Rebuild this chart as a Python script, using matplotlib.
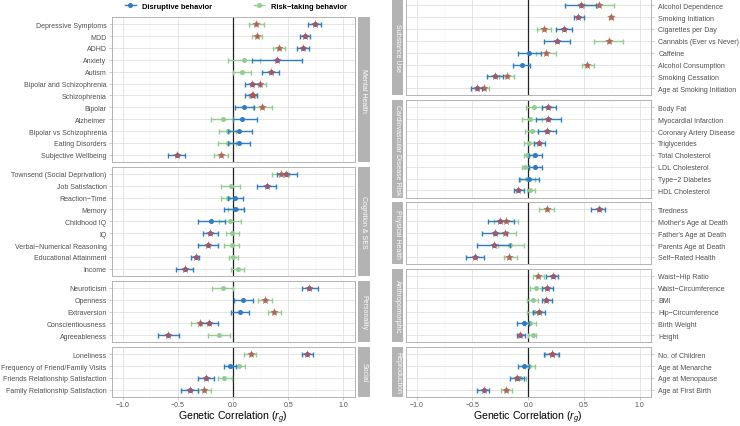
import numpy as np
import matplotlib.pyplot as plt
from matplotlib.lines import Line2D

plt.rcParams['font.family'] = ['Liberation Sans', 'DejaVu Sans']
plt.rcParams['mathtext.fontset'] = 'custom'
plt.rcParams['mathtext.rm'] = 'Liberation Sans'
plt.rcParams['mathtext.it'] = 'Liberation Sans:italic'

BLUE = '#2f7bc6'
GREEN = '#93cc93'
STAR = '#c0504d'
GRID = '#e0e0e0'
BORDER = '#b3b3b3'

# rows: estimate, lower CI, upper CI, significant (1) or not (0)
mental_labels = ['Depressive Symptoms', 'MDD', 'ADHD', 'Anxiety', 'Autism',
                 'Bipolar and Schizophrenia', 'Schizophrenia', 'Bipolar', 'Alzheimer',
                 'Bipolar vs Schizophrenia', 'Eating Disorders', 'Subjective Wellbeing']
mental_dis = [(0.74, 0.68, 0.80, 1), (0.65, 0.61, 0.70, 1), (0.63, 0.58, 0.69, 1),
              (0.40, 0.17, 0.62, 1), (0.34, 0.26, 0.42, 1), (0.17, 0.11, 0.24, 1),
              (0.17, 0.11, 0.22, 1), (0.10, 0.02, 0.19, 0), (0.08, 0.00, 0.22, 0),
              (0.05, -0.05, 0.17, 0), (0.05, -0.05, 0.15, 0), (-0.51, -0.59, -0.44, 1)]
mental_risk = [(0.21, 0.14, 0.28, 1), (0.22, 0.17, 0.26, 1), (0.42, 0.36, 0.47, 1),
               (0.10, -0.05, 0.24, 0), (0.08, 0.00, 0.16, 0), (0.24, 0.18, 0.30, 1),
               (0.18, 0.14, 0.22, 1), (0.26, 0.18, 0.35, 1), (-0.09, -0.20, 0.00, 0),
               (-0.05, -0.13, 0.03, 0), (-0.05, -0.14, 0.03, 0), (-0.11, -0.17, -0.05, 1)]

cog_labels = ['Townsend (Social Deprivation)', 'Job Satisfaction', 'Reaction\u2212Time',
              'Memory', 'Childhood IQ', 'IQ', 'Verbal\u2212Numerical Reasoning',
              'Educational Attainment', 'Income']
cog_dis = [(0.48, 0.40, 0.58, 1), (0.31, 0.22, 0.39, 1), (0.02, -0.05, 0.09, 0),
           (0.02, -0.08, 0.10, 0), (-0.20, -0.32, -0.07, 0), (-0.21, -0.27, -0.14, 1),
           (-0.23, -0.32, -0.14, 1), (-0.34, -0.38, -0.31, 1), (-0.44, -0.52, -0.36, 1)]
cog_risk = [(0.43, 0.35, 0.51, 1), (-0.02, -0.11, 0.06, 0), (-0.05, -0.11, 0.01, 0),
            (0.03, -0.05, 0.10, 0), (-0.03, -0.13, 0.07, 0), (-0.01, -0.06, 0.05, 0),
            (-0.01, -0.08, 0.05, 0), (0.00, -0.04, 0.04, 0), (0.04, -0.02, 0.10, 0)]

pers_labels = ['Neuroticism', 'Openness', 'Extraversion', 'Conscientiousness', 'Agreeableness']
pers_dis = [(0.69, 0.62, 0.77, 1), (0.09, 0.01, 0.18, 0), (0.06, -0.02, 0.14, 0),
            (-0.22, -0.30, -0.14, 1), (-0.59, -0.68, -0.49, 1)]
pers_risk = [(-0.09, -0.19, 0.00, 0), (0.29, 0.23, 0.35, 1), (0.37, 0.32, 0.43, 1),
             (-0.30, -0.38, -0.22, 1), (-0.13, -0.23, -0.03, 0)]

social_labels = ['Loneliness', 'Frequency of Friend/Family Visits',
                 'Friends Relationship Satisfaction', 'Family Relationship Satisfaction']
social_dis = [(0.67, 0.62, 0.72, 1), (-0.03, -0.08, 0.03, 0),
              (-0.25, -0.32, -0.17, 1), (-0.39, -0.47, -0.32, 1)]
social_risk = [(0.16, 0.10, 0.21, 1), (0.05, -0.01, 0.11, 0),
               (-0.08, -0.14, -0.01, 0), (-0.26, -0.32, -0.20, 1)]

subst_labels = ['Alcohol Dependence', 'Smoking Initiation', 'Cigarettes per Day',
                'Cannabis (Ever vs Never)', 'Caffeine', 'Alcohol Consumption',
                'Smoking Cessation', 'Age at Smoking Initiation']
subst_dis = [(0.47, 0.33, 0.61, 1), (0.45, 0.41, 0.50, 1), (0.32, 0.25, 0.39, 1),
             (0.26, 0.14, 0.37, 1), (0.01, -0.09, 0.11, 0), (-0.06, -0.14, 0.02, 0),
             (-0.30, -0.37, -0.23, 1), (-0.46, -0.51, -0.41, 1)]
subst_risk = [(0.63, 0.50, 0.77, 1), (0.74, 0.72, 0.76, 1), (0.14, 0.08, 0.20, 1),
              (0.72, 0.59, 0.85, 1), (0.16, 0.07, 0.25, 1), (0.53, 0.48, 0.59, 1),
              (-0.19, -0.26, -0.13, 1), (-0.40, -0.45, -0.35, 1)]

cardio_labels = ['Body Fat', 'Myocardial Infarction', 'Coronary Artery Disease',
                 'Triglycerides', 'Total Cholesterol', 'LDL Cholesterol',
                 'Type\u22122 Diabetes', 'HDL Cholesterol']
cardio_dis = [(0.18, 0.12, 0.25, 1), (0.18, 0.07, 0.29, 1), (0.17, 0.09, 0.25, 1),
              (0.10, 0.05, 0.15, 1), (0.06, 0.01, 0.12, 0), (0.06, 0.01, 0.12, 0),
              (0.01, -0.08, 0.10, 0), (-0.09, -0.13, -0.04, 1)]
cardio_risk = [(0.05, -0.02, 0.12, 0), (0.02, -0.06, 0.12, 0), (0.03, -0.03, 0.09, 0),
               (0.01, -0.04, 0.05, 0), (-0.01, -0.04, 0.04, 0), (-0.03, -0.06, 0.01, 0),
               (-0.01, -0.07, 0.06, 0), (0.02, -0.01, 0.06, 0)]

phys_labels = ['Tiredness', "Mother's Age at Death", "Father's Age at Death",
               'Parents Age at Death', 'Self\u2212Rated Health']
phys_dis = [(0.63, 0.56, 0.69, 1), (-0.25, -0.36, -0.13, 1), (-0.30, -0.41, -0.19, 1),
            (-0.31, -0.46, -0.16, 1), (-0.48, -0.56, -0.40, 1)]
phys_risk = [(0.17, 0.10, 0.23, 1), (-0.20, -0.31, -0.09, 1), (-0.21, -0.31, -0.11, 1),
             (-0.16, -0.27, -0.04, 0), (-0.17, -0.22, -0.10, 1)]

anthro_labels = ['Waist\u2212Hip Ratio', 'Waist\u2212Circumference', 'BMI',
                 'Hip\u2212Circumference', 'Birth Weight', 'Height']
anthro_dis = [(0.22, 0.16, 0.27, 1), (0.17, 0.12, 0.22, 1), (0.16, 0.12, 0.21, 1),
              (0.10, 0.04, 0.15, 1), (-0.04, -0.10, 0.01, 0), (-0.07, -0.10, -0.03, 1)]
anthro_risk = [(0.09, 0.04, 0.14, 1), (0.07, 0.02, 0.12, 0), (0.04, -0.01, 0.09, 0),
               (0.05, -0.01, 0.09, 0), (0.02, -0.03, 0.07, 0), (0.04, 0.00, 0.07, 0)]

repro_labels = ['No. of Children', 'Age at Menarche', 'Age at Menopause', 'Age at First Birth']
repro_dis = [(0.21, 0.14, 0.28, 1), (-0.04, -0.09, 0.01, 0),
             (-0.10, -0.16, -0.04, 1), (-0.40, -0.46, -0.35, 1)]
repro_risk = [(0.21, 0.15, 0.27, 1), (0.01, -0.03, 0.06, 0),
              (-0.07, -0.12, -0.02, 0), (-0.20, -0.24, -0.15, 1)]

left = [('Mental Health', mental_labels, mental_dis, mental_risk),
        ('Cognition & SES', cog_labels, cog_dis, cog_risk),
        ('Personality', pers_labels, pers_dis, pers_risk),
        ('Social', social_labels, social_dis, social_risk)]
right = [('Substance Use', subst_labels, subst_dis, subst_risk),
         ('Cardiovascular Disease Risk', cardio_labels, cardio_dis, cardio_risk),
         ('Physical Health', phys_labels, phys_dis, phys_risk),
         ('Anthropomorphic', anthro_labels, anthro_dis, anthro_risk),
         ('Reproduction', repro_labels, repro_dis, repro_risk)]

W, H = 740, 427
fig = plt.figure(figsize=(W / 100, H / 100), dpi=100)


def add_px(x0, y0, x1, y1):
    return fig.add_axes([x0 / W, 1 - y1 / H, (x1 - x0) / W, (y1 - y0) / H])


def draw_series(ax, y, data, col, z):
    d = np.array(data, dtype=float)
    est, lo, hi, sig = d.T
    ax.errorbar(est, y, xerr=[est - lo, hi - est], fmt='o', ms=2.6, color=col,
                ecolor=col, elinewidth=1.0, capsize=1.8, capthick=1.0, zorder=z)
    s = sig > 0
    ax.scatter(est[s], y[s], marker='*', s=42, color=STAR, alpha=0.85,
               linewidths=0, zorder=6)


def draw_column(panels, px0, px1, sx0, sx1, side):
    row_h, gap, bottom = 11.88, 4.7, 398
    heights = [(len(p[1]) + 0.2) * row_h for p in panels]
    top = bottom - sum(heights) - gap * (len(panels) - 1)
    axes = []
    for (name, labels, dis, risk), h in zip(panels, heights):
        y0, y1 = top, top + h
        ax = add_px(px0, y0, px1, y1)
        n = len(labels)
        y = np.arange(n)
        ax.set_xlim(-1.1, 1.1)
        ax.set_ylim(n - 0.4, -0.6)
        ax.set_xticks([-1, -0.5, 0, 0.5, 1])
        ax.set_xticks([-0.75, -0.25, 0.25, 0.75], minor=True)
        ax.set_yticks(y)
        ax.set_yticklabels(labels)
        ax.grid(which='major', color=GRID, lw=0.6)
        ax.grid(which='minor', axis='x', color='#ececec', lw=0.35)
        ax.set_axisbelow(True)
        for sp in ax.spines.values():
            sp.set_color(BORDER)
            sp.set_linewidth(0.7)
        ax.tick_params(which='both', colors=BORDER, labelcolor='#4d4d4d',
                       labelsize=5.0, length=2.2, width=0.5, pad=1.5)
        ax.tick_params(which='minor', length=0)
        ax.tick_params(axis='x', length=0, labelbottom=False)
        if side == 'right':
            ax.yaxis.tick_right()
            ax.tick_params(axis='y', pad=3)
        ax.axvline(0, color='#222222', lw=0.9, zorder=2)
        draw_series(ax, y, risk, GREEN, 3)
        draw_series(ax, y, dis, BLUE, 4)

        st = add_px(sx0, y0, sx1, y1)
        st.set_facecolor(BORDER)
        st.set_xticks([])
        st.set_yticks([])
        for sp in st.spines.values():
            sp.set_visible(False)
        st.text(0.5, 0.5, name, rotation=-90, color='white', fontsize=5.0,
                ha='center', va='center', transform=st.transAxes)
        axes.append(ax)
        top = y1 + gap
    last = axes[-1]
    last.tick_params(axis='x', length=2.0, pad=1.0, labelbottom=True)
    last.set_xlabel('Genetic Correlation ($r_g$)', fontsize=7.6, color='black', labelpad=0.5)
    return axes


draw_column(left, 111.7, 354.5, 357.5, 370.0, 'left')
draw_column(right, 405.5, 651.0, 392.3, 403.5, 'right')

handles = [Line2D([], [], color=BLUE, marker='o', ms=2.6, lw=1),
           Line2D([], [], color=GREEN, marker='o', ms=2.6, lw=1)]
fig.legend(handles, ['Disruptive behavior', 'Risk\u2212taking behavior'],
           loc='center', bbox_to_anchor=(236 / W, 1 - 7 / H), ncol=2, frameon=False,
           prop={'weight': 'bold', 'size': 5.4}, handlelength=1.4, handletextpad=0.9,
           columnspacing=5.5)

fig.savefig('out.png', dpi=100)
